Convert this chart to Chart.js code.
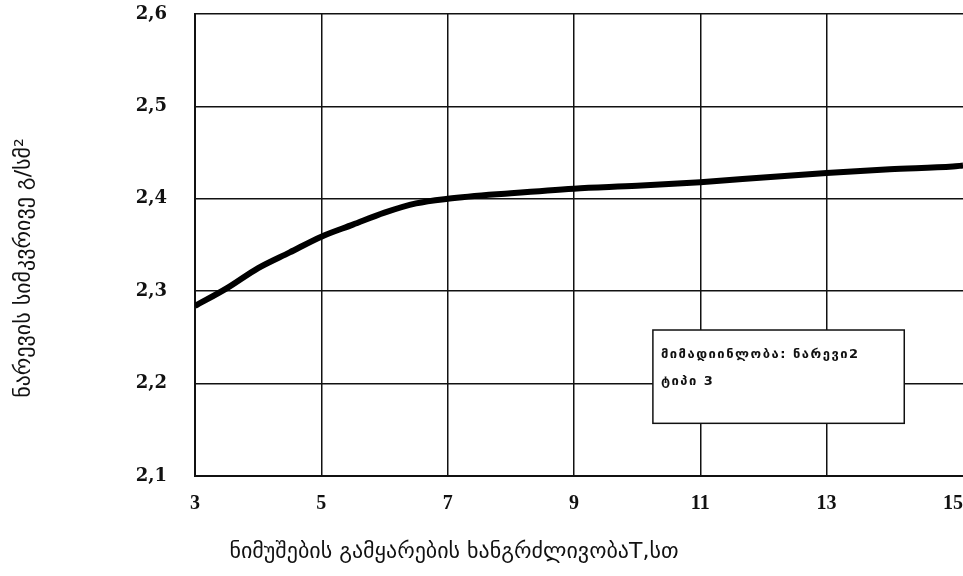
<!DOCTYPE html>
<html>
<head>
<meta charset="utf-8">
<script src="https://cdn.jsdelivr.net/npm/chart.js@4/dist/chart.umd.min.js"></script>
<style>
  html, body { margin: 0; padding: 0; background: #fff; }
  #wrap { width: 963px; height: 576px; position: relative; }
</style>
</head>
<body>
<div id="wrap"><canvas id="densityChart" width="963" height="576"></canvas></div>
<script>
// curing time, h
const hours = [3, 3.5, 4, 4.5, 5, 5.5, 6, 6.5, 7, 8, 9, 10, 11, 12, 13, 14, 15, 15.16];
// mix density, g/cm3
const density = [2.284, 2.303, 2.325, 2.342, 2.359, 2.372, 2.385, 2.395, 2.400, 2.406, 2.411, 2.414, 2.418, 2.423, 2.428, 2.432, 2.435, 2.436];

const xTicks = [3, 5, 7, 9, 11, 13, 15];
const yTicks = [2.1, 2.2, 2.3, 2.4, 2.5, 2.6];

const xTitle = 'ნიმუშების გამყარების ხანგრძლივობაT,სთ';
const yTitle = 'ნარევის სიმკვრივე გ/სმ²';
const legendLines = ['მიმადიინლობა: ნარევი2', 'ტიპი 3'];

// axis titles + the boxed note drawn on top of the grid
const notesPlugin = {
  id: 'notes',
  afterDraw(chart) {
    const { ctx } = chart;
    const xs = chart.scales.x, ys = chart.scales.y;
    ctx.save();
    ctx.fillStyle = '#111';
    ctx.font = '22px "DejaVu Sans"';
    ctx.textAlign = 'center';
    ctx.textBaseline = 'middle';
    ctx.fillText(xTitle, 454, 552);
    ctx.translate(24, 268);
    ctx.rotate(-Math.PI / 2);
    ctx.fillText(yTitle, 0, 0);
    ctx.restore();

    const l = xs.getPixelForValue(10.25), r = xs.getPixelForValue(14.23);
    const t = ys.getPixelForValue(2.258), b = ys.getPixelForValue(2.157);
    ctx.save();
    ctx.fillStyle = '#fff';
    ctx.fillRect(l, t, r - l, b - t);
    ctx.strokeStyle = '#111';
    ctx.lineWidth = 1.5;
    ctx.strokeRect(l, t, r - l, b - t);
    ctx.fillStyle = '#111';
    ctx.font = 'bold 13px "DejaVu Sans"';
    ctx.letterSpacing = '1.5px';
    ctx.textAlign = 'left';
    ctx.textBaseline = 'middle';
    ctx.fillText(legendLines[0], l + 8, t + 25);
    ctx.fillText(legendLines[1], l + 8, t + 52);
    ctx.restore();
  }
};

new Chart(document.getElementById('densityChart'), {
  type: 'line',
  data: {
    datasets: [{
      data: hours.map((h, i) => ({ x: h, y: density[i] })),
      borderColor: '#000',
      borderWidth: 6,
      pointRadius: 0,
      cubicInterpolationMode: 'monotone',
      fill: false
    }]
  },
  plugins: [notesPlugin],
  options: {
    responsive: false,
    animation: false,
    layout: { padding: { top: 14, right: 0, left: 0, bottom: 0 } },
    plugins: { legend: { display: false }, tooltip: { enabled: false } },
    scales: {
      x: {
        type: 'linear',
        min: 3,
        max: 15.16,
        afterBuildTicks(scale) { scale.ticks = xTicks.map(v => ({ value: v })); },
        afterFit(scale) {
          scale.height = 100;
          scale.paddingLeft = 0;
          scale.paddingRight = 0;
        },
        grid: {
          color: ctx => (ctx.tick && ctx.tick.value === 15 ? 'rgba(0,0,0,0)' : '#111'),
          lineWidth: 1.5,
          drawTicks: false
        },
        border: { color: '#111', width: 2 },
        ticks: {
          padding: 16,
          color: '#111',
          font: { family: '"Liberation Serif"', weight: 'bold', size: 20 },
          callback: v => String(v)
        }
      },
      y: {
        min: 2.1,
        max: 2.6,
        afterBuildTicks(scale) { scale.ticks = yTicks.map(v => ({ value: v })); },
        afterFit(scale) {
          scale.width = 195;
          scale.paddingTop = 0;
          scale.paddingBottom = 0;
        },
        grid: { color: '#111', lineWidth: 1.5, drawTicks: false },
        border: { color: '#111', width: 2 },
        ticks: {
          padding: 28,
          color: '#111',
          font: { family: '"DejaVu Serif"', weight: 'bold', size: 18 },
          callback: v => v.toFixed(1).replace('.', ',')
        }
      }
    }
  }
});
</script>
</body>
</html>
